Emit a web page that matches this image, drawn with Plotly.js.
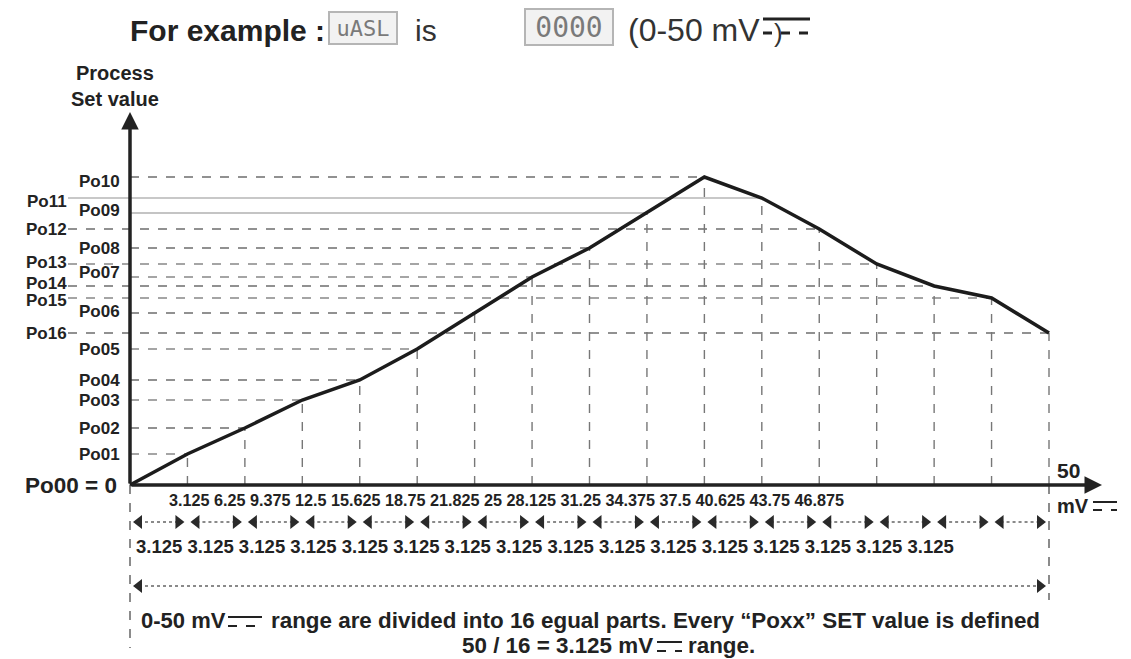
<!DOCTYPE html>
<html><head><meta charset="utf-8">
<script src="https://cdn.plot.ly/plotly-3.0.1.min.js"></script>
<style>html,body{margin:0;padding:0;background:#fff;}#chart{width:1131px;height:659px;}</style>
</head><body><div id="chart"></div>
<script>
// ---- data ----
const xValues = [0, 3.125, 6.25, 9.375, 12.5, 15.625, 18.75, 21.875, 25, 28.125, 31.25, 34.375, 37.5, 40.625, 43.75, 46.875, 50];
const poLabels = ['Po00','Po01','Po02','Po03','Po04','Po05','Po06','Po07','Po08','Po09','Po10','Po11','Po12','Po13','Po14','Po15','Po16'];
const poValues = [0, 31, 57, 85, 105, 136, 172, 208, 237, 272, 308, 287, 256, 221, 199, 187, 152];
const tickText = ['3.125','6.25','9.375','12.5','15.625','18.75','21.825','25','28.125','31.25','34.375','37.5','40.625','43.75','46.875'];
const partText = ['3.125','3.125','3.125','3.125','3.125','3.125','3.125','3.125','3.125','3.125','3.125','3.125','3.125','3.125','3.125','3.125'];
const xMax = 50;

// ---- geometry (pixel mapping via axis ranges) ----
const X0PX = 130, PXPERUNIT = 919 / 50, Y0PX = 485;
const xr = [-X0PX / PXPERUNIT, (1131 - X0PX) / PXPERUNIT];
const yr = [Y0PX - 659, Y0PX];
const px2x = p => (p - X0PX) / PXPERUNIT;
const py2y = p => Y0PX - p;

const FONT = 'Liberation Sans, Arial, sans-serif';
const traces = [];

// horizontal guide lines
const outerStart = px2x(68);
const hStyle = {9: {dash: 'solid', color: '#c4c4c4', width: 2}, 11: {dash: 'solid', color: '#c8c8c8', width: 2}};
for (let i = 1; i < poValues.length; i++) {
  const st = hStyle[i] || {dash: 'dash', color: (i % 2 ? '#888' : '#6e6e6e'), width: 1.4};
  const x0 = i > 10 ? outerStart : 0;
  traces.push({x: [x0, xValues[i]], y: [poValues[i], poValues[i]], mode: 'lines',
    line: {color: st.color, width: st.width, dash: st.dash}, hoverinfo: 'skip', showlegend: false});
}
// vertical guide lines
for (let i = 1; i < xValues.length; i++) {
  traces.push({x: [xValues[i], xValues[i]], y: [0, poValues[i]], mode: 'lines',
    line: {color: '#777', width: 1.4, dash: 'dash'}, hoverinfo: 'skip', showlegend: false});
}
// extension lines below axis
traces.push({x: [0, 0], y: [0, py2y(648)], mode: 'lines', line: {color: '#666', width: 1.5, dash: 'dash'}, hoverinfo: 'skip', showlegend: false});
traces.push({x: [xMax, xMax], y: [0, py2y(600)], mode: 'lines', line: {color: '#666', width: 1.5, dash: 'dash'}, hoverinfo: 'skip', showlegend: false});

// segment arrows
const inset = px2x(X0PX + 9);
const segY = py2y(522);
const sx = [], sy = [], lx = [], ly = [], rx = [], ry = [];
for (let i = 0; i < xValues.length - 1; i++) {
  sx.push(xValues[i] + inset, xValues[i + 1] - inset, null);
  sy.push(segY, segY, null);
  lx.push(xValues[i] + inset); ly.push(segY);
  rx.push(xValues[i + 1] - inset); ry.push(segY);
}
traces.push({x: sx, y: sy, mode: 'lines', line: {color: '#8a8a8a', width: 2.2, dash: 'dot'}, hoverinfo: 'skip', showlegend: false});
traces.push({x: lx, y: ly, mode: 'markers', marker: {symbol: 'triangle-left', size: 12, color: '#2a2a2a'}, hoverinfo: 'skip', showlegend: false});
traces.push({x: rx, y: ry, mode: 'markers', marker: {symbol: 'triangle-right', size: 12, color: '#2a2a2a'}, hoverinfo: 'skip', showlegend: false});
// full range arrow
const fullY = py2y(586);
traces.push({x: [xValues[0] + inset, xValues[xValues.length - 1] - inset], y: [fullY, fullY], mode: 'lines',
  line: {color: '#8a8a8a', width: 2.2, dash: 'dot'}, hoverinfo: 'skip', showlegend: false});
traces.push({x: [xValues[0] + inset], y: [fullY], mode: 'markers', marker: {symbol: 'triangle-left', size: 12, color: '#2a2a2a'}, hoverinfo: 'skip', showlegend: false});
traces.push({x: [xValues[xValues.length - 1] - inset], y: [fullY], mode: 'markers', marker: {symbol: 'triangle-right', size: 12, color: '#2a2a2a'}, hoverinfo: 'skip', showlegend: false});

// main curve
traces.push({x: xValues, y: poValues, mode: 'lines', line: {color: '#1c1c1c', width: 3.5}, hoverinfo: 'x+y', showlegend: false});

// ---- annotations ----
const ann = [];
// axes arrows
ann.push({x: px2x(1102), y: 0, ax: 0, ay: 0, axref: 'x', ayref: 'y', xref: 'x', yref: 'y', text: '', showarrow: true,
  arrowhead: 2, arrowsize: 1, arrowwidth: 3.5, arrowcolor: '#222'});
ann.push({x: 0, y: py2y(112), ax: 0, ay: 0, axref: 'x', ayref: 'y', xref: 'x', yref: 'y', text: '', showarrow: true,
  arrowhead: 2, arrowsize: 1, arrowwidth: 3.5, arrowcolor: '#222'});

// Po labels
const labelShift = {6: 2, 7: 5, 9: 3, 10: -4, 11: -3, 13: 2, 14: 3, 15: -2};
for (let i = 1; i < poLabels.length; i++) {
  ann.push({x: i > 10 ? px2x(69) : px2x(122), y: poValues[i], xref: 'x', yref: 'y', text: '<b>' + poLabels[i] + '</b>',
    showarrow: false, xanchor: 'right', yanchor: 'middle', yshift: labelShift[i] || 0,
    font: {family: FONT, size: 17, color: '#222'}});
}
ann.push({x: px2x(119), y: poValues[0], xref: 'x', yref: 'y', text: '<b>' + poLabels[0] + ' = 0</b>', showarrow: false,
  xanchor: 'right', yanchor: 'middle', font: {family: FONT, size: 22.5, color: '#222'}});

// tick label row and part row
ann.push({x: px2x(167), y: py2y(500), xref: 'x', yref: 'y', text: '<b>' + tickText.join(' ') + '</b>', showarrow: false,
  xanchor: 'left', yanchor: 'middle', font: {family: FONT, size: 16.2, color: '#222'}});
ann.push({x: px2x(134), y: py2y(546), xref: 'x', yref: 'y', text: '<b>' + partText.join(' ') + '</b>', showarrow: false,
  xanchor: 'left', yanchor: 'middle', font: {family: FONT, size: 18.5, color: '#222'}});

// axis end labels
ann.push({x: px2x(1055), y: py2y(470), xref: 'x', yref: 'y', text: '<b>' + xMax + '</b>', showarrow: false,
  xanchor: 'left', yanchor: 'middle', font: {family: FONT, size: 21, color: '#222'}});
ann.push({x: px2x(1055), y: py2y(506), xref: 'x', yref: 'y', text: '<b>mV</b>', showarrow: false,
  xanchor: 'left', yanchor: 'middle', font: {family: FONT, size: 20, color: '#222'}});
// y axis title
ann.push({x: px2x(115), y: py2y(73), xref: 'x', yref: 'y', text: '<b>Process</b>', showarrow: false,
  xanchor: 'center', yanchor: 'middle', font: {family: FONT, size: 20, color: '#222'}});
ann.push({x: px2x(115), y: py2y(99), xref: 'x', yref: 'y', text: '<b>Set value</b>', showarrow: false,
  xanchor: 'center', yanchor: 'middle', font: {family: FONT, size: 20, color: '#222'}});

// header
ann.push({x: px2x(128), y: py2y(30), xref: 'x', yref: 'y', text: '<b>For example :</b>', showarrow: false,
  xanchor: 'left', yanchor: 'middle', font: {family: FONT, size: 30, color: '#222'}});
ann.push({x: px2x(363), y: py2y(28), xref: 'x', yref: 'y', text: 'uASL', showarrow: false,
  xanchor: 'center', yanchor: 'middle', width: 64, height: 28, bordercolor: '#b5b5b5', borderwidth: 2, bgcolor: '#f2f2f2',
  font: {family: 'DejaVu Sans Mono, monospace', size: 22, color: '#7a7a7a'}});
ann.push({x: px2x(426), y: py2y(30), xref: 'x', yref: 'y', text: 'is', showarrow: false,
  xanchor: 'center', yanchor: 'middle', font: {family: FONT, size: 30, color: '#333'}});
ann.push({x: px2x(569), y: py2y(27), xref: 'x', yref: 'y', text: '0000', showarrow: false,
  xanchor: 'center', yanchor: 'middle', width: 84, height: 32, bordercolor: '#b5b5b5', borderwidth: 2, bgcolor: '#f2f2f2',
  font: {family: 'DejaVu Sans Mono, monospace', size: 28, color: '#7a7a7a'}});
ann.push({x: px2x(626), y: py2y(30), xref: 'x', yref: 'y', text: '(0-50 mV', showarrow: false,
  xanchor: 'left', yanchor: 'middle', font: {family: FONT, size: 32, color: '#333'}});
ann.push({x: px2x(772), y: py2y(33), xref: 'x', yref: 'y', text: ')', showarrow: false,
  xanchor: 'left', yanchor: 'middle', font: {family: FONT, size: 26, color: '#333'}});

// bottom explanation
ann.push({x: px2x(139), y: py2y(620), xref: 'x', yref: 'y', text: '<b>0-50 mV</b>', showarrow: false,
  xanchor: 'left', yanchor: 'middle', font: {family: FONT, size: 22, color: '#222'}});
ann.push({x: px2x(269), y: py2y(620), xref: 'x', yref: 'y', text: '<b>range are divided into 16 egual parts. Every \u201cPoxx\u201d SET value is defined</b>', showarrow: false,
  xanchor: 'left', yanchor: 'middle', font: {family: FONT, size: 22.4, color: '#222'}});
ann.push({x: px2x(655), y: py2y(645), xref: 'x', yref: 'y', text: '<b>50 / 16 = 3.125 mV</b>', showarrow: false,
  xanchor: 'right', yanchor: 'middle', font: {family: FONT, size: 22.4, color: '#222'}});
ann.push({x: px2x(686), y: py2y(645), xref: 'x', yref: 'y', text: '<b>range.</b>', showarrow: false,
  xanchor: 'left', yanchor: 'middle', font: {family: FONT, size: 22.4, color: '#222'}});

// DC symbols (solid over dashed)
const shapes = [];
function dc(x0p, x1p, ytop, gap, w) {
  shapes.push({type: 'line', xref: 'x', yref: 'y', x0: px2x(x0p), x1: px2x(x1p), y0: py2y(ytop), y1: py2y(ytop), line: {color: '#222', width: w}});
  shapes.push({type: 'line', xref: 'x', yref: 'y', x0: px2x(x0p), x1: px2x(x1p), y0: py2y(ytop + gap), y1: py2y(ytop + gap), line: {color: '#222', width: w, dash: 'dash'}});
}
dc(763, 810, 19, 14, 3);
dc(1093, 1117, 502, 8, 2);
dc(228, 262, 617, 9, 2);
dc(657, 682, 642, 9, 2);

const layout = {
  width: 1131, height: 659, margin: {l: 0, r: 0, t: 0, b: 0},
  paper_bgcolor: '#fff', plot_bgcolor: '#fff', showlegend: false,
  xaxis: {range: xr, visible: false, fixedrange: true},
  yaxis: {range: yr, visible: false, fixedrange: true},
  annotations: ann, shapes: shapes
};
Plotly.newPlot('chart', traces, layout, {displayModeBar: false, staticPlot: true});
</script></body></html>
